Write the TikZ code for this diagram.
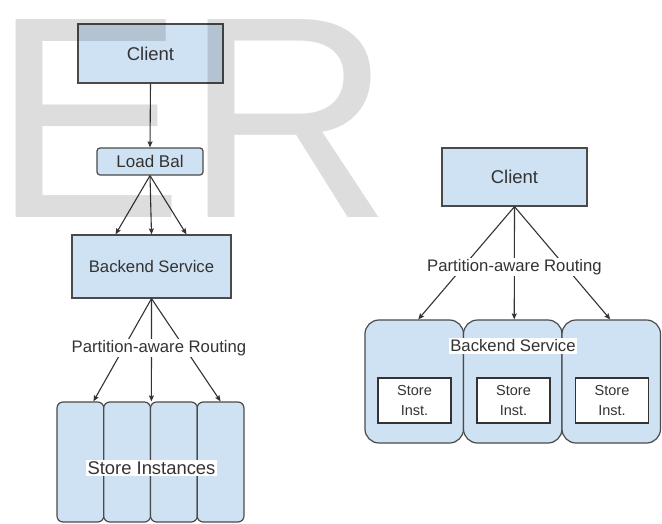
\documentclass[tikz,border=0pt]{standalone}
\usepackage{fontspec}
\setmainfont{Liberation Sans}
\usetikzlibrary{arrows.meta}
\definecolor{boxfill}{HTML}{CFE2F3}
\definecolor{boxline}{HTML}{4A4A4A}
\definecolor{inkgray}{HTML}{333333}
\tikzset{
  box/.style={draw=boxline, fill=boxfill, line width=1.2pt, inner sep=0pt,
    text=inkgray, font=\fontsize{16.7}{19}\selectfont},
  storebox/.style={box, rounded corners=6pt},
  svcbox/.style={box, rounded corners=14pt},
  instbox/.style={draw=inkgray, fill=white, line width=1.3pt, inner sep=0pt,
    minimum width=73pt, minimum height=45pt, align=center, text=inkgray,
    font=\fontsize{14.5}{20}\selectfont},
  tag/.style={fill=white, inner sep=1.5pt, text=inkgray,
    font=\fontsize{16.7}{19}\selectfont},
  conn/.style={draw=inkgray, line width=1.1pt,
    -{Stealth[length=6pt, width=5pt, inset=1pt]}},
  plain/.style={draw=inkgray, line width=1.1pt}
}
\begin{document}
\begin{tikzpicture}[x=1pt, y=-1pt]
\useasboundingbox (0,0) rectangle (662,523);

% ---- three-tier layout (left) ----
\node[box, minimum width=145pt, minimum height=59pt,
      font=\fontsize{18.5}{20}\selectfont] (cl) at (150.5,53.5) {Client};
\node[box, rounded corners=3pt, minimum width=106pt, minimum height=27pt,
      font=\fontsize{17}{19}\selectfont] (lb) at (150,161.5) {Load Bal};
\node[box, minimum width=159pt, minimum height=63pt] (bk) at (151.5,266.5) {Backend Service};

\node[storebox, minimum width=46.75pt, minimum height=120pt] (si1) at (80.4,462) {};
\node[storebox, minimum width=46.75pt, minimum height=120pt] (si2) at (127.1,462) {};
\node[storebox, minimum width=46.75pt, minimum height=120pt] (si3) at (173.9,462) {};
\node[storebox, minimum width=46.75pt, minimum height=120pt] (si4) at (220.6,462) {};

\draw[conn] (cl.south) -- (lb.north);
\draw[conn] (lb.south) -- ([xshift=-36pt]bk.north);
\draw[conn] (lb.south) -- (bk.north);
\draw[conn] (lb.south) -- ([xshift=35pt]bk.north);

\draw[conn] (bk.south) -- ([xshift=13pt]si1.north);
\draw[conn] (bk.south) -- ([xshift=1.5pt]si3.north west);
\draw[conn] (bk.south) -- (si4.north);

\node[tag] (rt1) at (159,348) {Partition-aware Routing};
\node[tag, font=\fontsize{18.4}{20}\selectfont] (silabel) at (151.5,468) {Store Instances};

% ---- embedded layout (right) ----
\node[box, minimum width=145pt, minimum height=58pt,
      font=\fontsize{18.5}{20}\selectfont] (cr) at (514.5,177) {Client};

\node[svcbox, minimum width=98.5pt, minimum height=123pt] (bs1) at (414.25,381.5) {};
\node[svcbox, minimum width=98.5pt, minimum height=123pt] (bs2) at (512.75,381.5) {};
\node[svcbox, minimum width=98.5pt, minimum height=123pt] (bs3) at (611.25,381.5) {};

\node[instbox] (st1) at (414.5,400.5) {Store\\Inst.};
\node[instbox] (st2) at (513.5,400.5) {Store\\Inst.};
\node[instbox] (st3) at (612,400.5) {Store\\Inst.};

\draw[conn] (cr.south) -- ([xshift=4pt]bs1.north);
\draw[conn] (cr.south) -- ([xshift=1.5pt]bs2.north);
\draw[conn] (cr.south) -- ([xshift=-1pt]bs3.north);

\node[tag] (rt2) at (514.5,267) {Partition-aware Routing};
\node[tag] (bslabel) at (513,346) {Backend Service};

% ---- translucent lettering across the top ----
\node[anchor=base west, inner sep=0pt, text=black, text opacity=0.135,
      font=\fontsize{287.7}{290}\selectfont] (mark) at (-8,217) {ER};
\end{tikzpicture}
\end{document}
